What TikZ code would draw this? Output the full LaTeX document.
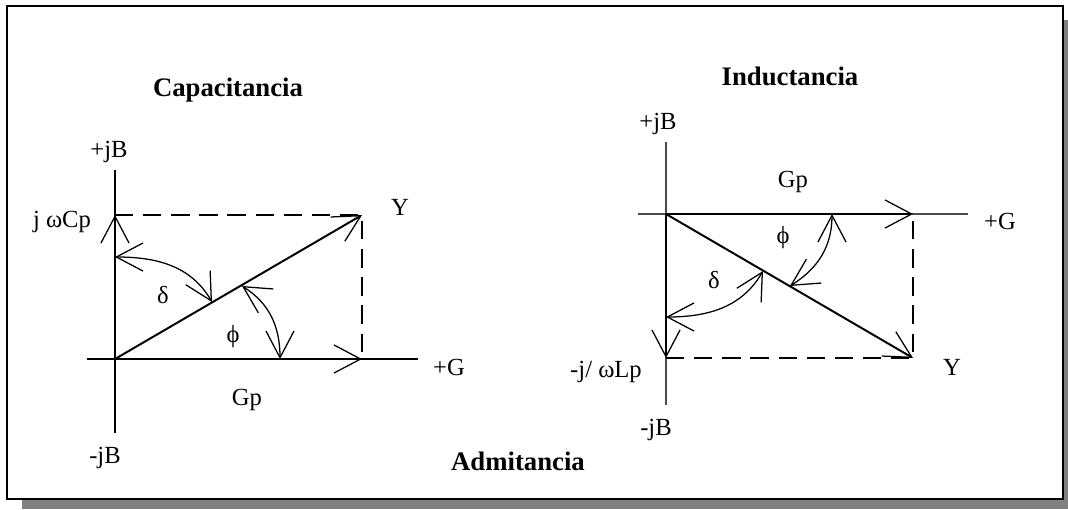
\documentclass[tikz,border=0pt]{standalone}
\usepackage{fontspec}
\setmainfont{Liberation Serif}
\usetikzlibrary{arrows.meta,calc,positioning}

\begin{document}
\begin{tikzpicture}[x=0.025cm, y=0.025cm,
    >={Straight Barb[length=19pt 0, width=20pt 0, line width=0.9pt 0]},
    eje/.style={line width=1.4pt},
    vec/.style={line width=1.4pt, ->},
    guia/.style={line width=1pt, dash pattern=on 13pt off 7pt},
    angulo/.style={line width=0.9pt, <->},
    etq/.style={font=\fontsize{17.5}{20}\selectfont, anchor=base, inner sep=0pt},
    titulo/.style={font=\fontsize{19}{22}\selectfont\bfseries, anchor=base, inner sep=0pt}]

\useasboundingbox (0,0) rectangle (1068,-509);

% Marco con sombra
\fill[black!50] (22,-20) rectangle (1068,-509);
\draw[fill=white, line width=1pt] (7,-6) rectangle (1063,-499);

% CAPACITANCIA
\begin{scope}[shift={(115,-359)}]
    % Ejes
    \coordinate (oC) at (0,0);
    \coordinate (cIzq) at (-28,0);
    \coordinate (cDer) at (303,0);
    \coordinate (cArr) at (0,189);
    \coordinate (cAba) at (0,-74);
    \draw[eje] (cIzq) -- (cDer);
    \draw[eje] (cArr) -- (cAba);

    % Vectores
    \coordinate (yC) at (247,144);
    \coordinate (bC) at (0,144);
    \coordinate (gC) at (247,0);
    \draw[vec] (oC) -- (gC);
    \draw[vec] (oC) -- (bC);
    \draw[vec] (oC) -- (yC);
    \draw[guia] (bC) -- (yC) -- (gC);

    % Angulos
    \coordinate (dC1) at (0,102);
    \coordinate (dC2) at (97,57);
    \coordinate (fC1) at (127,73);
    \coordinate (fC2) at (165,0);
    \draw[angulo] (dC1) to[out=0, in=120] (dC2);
    \draw[angulo] (fC1) to[out=-32, in=90] (fC2);

    % Etiquetas
    \node[etq] (cjB) at (-6,202) {+jB};
    \node[etq] (cwC) at (-53,132) {j ωCp};
    \node[etq] (cY) at (285,144) {Y};
    \node[etq] (cd) at (48,56) {δ};
    \node[etq, anchor=center] (cf) at (118,22) {ϕ};
    \node[etq] (cG) at (334,-16) {+G};
    \node[etq] (cGp) at (132,-46) {Gp};
    \node[etq] (cmjB) at (-10,-104) {-jB};
\end{scope}

% INDUCTANCIA
\begin{scope}[shift={(666,-214)}]
    % Ejes
    \coordinate (oL) at (0,0);
    \coordinate (lIzq) at (-28,0);
    \coordinate (lDer) at (302,0);
    \coordinate (lArr) at (0,72);
    \coordinate (lAba) at (0,-191);
    \draw[eje, black!70] (lIzq) -- (lDer);
    \draw[eje, black!70] (lArr) -- (lAba);

    % Vectores
    \coordinate (yL) at (247,-144);
    \coordinate (bL) at (0,-144);
    \coordinate (gL) at (247,0);
    \draw[vec] (oL) -- (gL);
    \draw[vec] (oL) -- (bL);
    \draw[vec] (oL) -- (yL);
    \draw[guia] (bL) -- (yL) -- (gL);

    % Angulos
    \coordinate (dL1) at (0,-103);
    \coordinate (dL2) at (97,-57);
    \coordinate (fL1) at (124,-72);
    \coordinate (fL2) at (166,0);
    \draw[angulo] (dL1) to[out=0, in=240] (dL2);
    \draw[angulo] (fL1) to[out=32, in=270] (fL2);

    % Etiquetas
    \node[etq] (ljB) at (-8,85) {+jB};
    \node[etq] (lGp) at (127,27) {Gp};
    \node[etq] (lG) at (334,-15) {+G};
    \node[etq, anchor=center] (lf) at (117,-24) {ϕ};
    \node[etq] (ld) at (48,-74) {δ};
    \node[etq] (lwL) at (-60,-163) {-j/ ωLp};
    \node[etq] (lY) at (286,-161) {Y};
    \node[etq] (lmjB) at (-10,-221) {-jB};
\end{scope}

% Titulos
\node[titulo] (tCap) at (228,-96) {Capacitancia};
\node[titulo] (tInd) at (790,-85) {Inductancia};
\node[titulo] (tAdm) at (518,-470) {Admitancia};

\end{tikzpicture}
\end{document}
